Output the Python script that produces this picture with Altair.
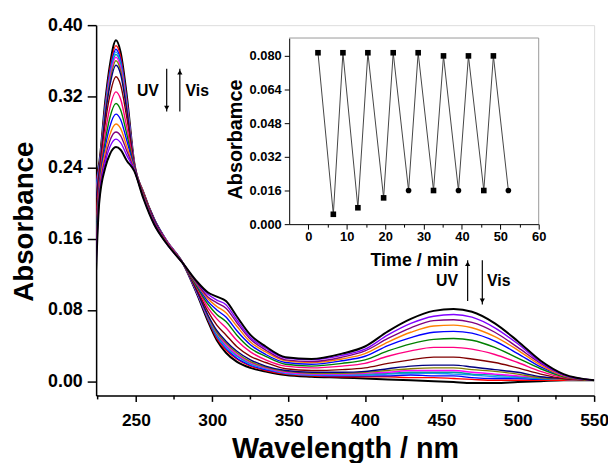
import altair as alt
import pandas as pd

# ---------------- main spectra ----------------
wavelengths = [224, 226, 230, 233, 237, 240, 244, 249, 255, 262, 270, 281, 290, 297, 303,
               309, 316, 325, 335, 348, 365, 385, 400, 415, 430, 445, 458, 470, 485, 500,
               515, 530, 550]

spec_00 = [0.230, 0.245, 0.315, 0.355, 0.383, 0.370, 0.322, 0.245, 0.212, 0.182, 0.158, 0.132, 0.098, 0.068, 0.046, 0.032, 0.022, 0.015, 0.011, 0.007, 0.005, 0.004, 0.003, 0.002, 0.001, 0.000, -0.001, -0.002, -0.002, -0.001, 0.000, 0.001, 0.001]
spec_01 = [0.225, 0.243, 0.311, 0.350, 0.377, 0.365, 0.318, 0.245, 0.212, 0.182, 0.158, 0.132, 0.099, 0.070, 0.048, 0.035, 0.025, 0.017, 0.012, 0.008, 0.006, 0.005, 0.005, 0.005, 0.004, 0.004, 0.003, 0.002, 0.001, 0.001, 0.001, 0.001, 0.001]
spec_02 = [0.222, 0.241, 0.309, 0.347, 0.373, 0.361, 0.316, 0.244, 0.211, 0.182, 0.158, 0.132, 0.099, 0.071, 0.050, 0.037, 0.026, 0.018, 0.013, 0.009, 0.007, 0.006, 0.006, 0.006, 0.007, 0.006, 0.006, 0.004, 0.003, 0.003, 0.002, 0.002, 0.001]
spec_03 = [0.218, 0.240, 0.307, 0.344, 0.370, 0.358, 0.314, 0.244, 0.211, 0.181, 0.158, 0.132, 0.100, 0.072, 0.051, 0.038, 0.028, 0.019, 0.014, 0.009, 0.007, 0.007, 0.007, 0.008, 0.009, 0.009, 0.008, 0.007, 0.005, 0.004, 0.003, 0.002, 0.001]
spec_04 = [0.216, 0.239, 0.305, 0.342, 0.367, 0.356, 0.312, 0.244, 0.211, 0.181, 0.158, 0.132, 0.100, 0.072, 0.052, 0.040, 0.029, 0.020, 0.015, 0.010, 0.008, 0.008, 0.008, 0.009, 0.010, 0.010, 0.010, 0.008, 0.007, 0.005, 0.003, 0.002, 0.001]
spec_05 = [0.214, 0.238, 0.303, 0.340, 0.364, 0.353, 0.311, 0.244, 0.211, 0.181, 0.158, 0.132, 0.100, 0.073, 0.054, 0.041, 0.030, 0.021, 0.015, 0.010, 0.008, 0.008, 0.009, 0.010, 0.012, 0.012, 0.012, 0.010, 0.008, 0.006, 0.004, 0.002, 0.001]
spec_06 = [0.210, 0.236, 0.301, 0.336, 0.360, 0.349, 0.308, 0.243, 0.211, 0.181, 0.157, 0.132, 0.101, 0.074, 0.055, 0.043, 0.032, 0.022, 0.016, 0.011, 0.009, 0.009, 0.010, 0.012, 0.014, 0.015, 0.015, 0.013, 0.011, 0.008, 0.004, 0.002, 0.001]
spec_07 = [0.206, 0.235, 0.298, 0.332, 0.355, 0.345, 0.305, 0.243, 0.210, 0.181, 0.157, 0.132, 0.101, 0.075, 0.057, 0.045, 0.034, 0.024, 0.017, 0.012, 0.010, 0.010, 0.011, 0.014, 0.017, 0.018, 0.018, 0.016, 0.013, 0.010, 0.005, 0.003, 0.001]
spec_08 = [0.194, 0.230, 0.290, 0.321, 0.342, 0.333, 0.297, 0.242, 0.210, 0.180, 0.157, 0.132, 0.103, 0.079, 0.063, 0.052, 0.039, 0.028, 0.021, 0.014, 0.012, 0.013, 0.015, 0.020, 0.024, 0.027, 0.027, 0.025, 0.021, 0.015, 0.008, 0.003, 0.001]
spec_09 = [0.180, 0.223, 0.279, 0.307, 0.325, 0.317, 0.286, 0.241, 0.209, 0.179, 0.157, 0.132, 0.105, 0.083, 0.070, 0.060, 0.046, 0.033, 0.024, 0.017, 0.015, 0.017, 0.020, 0.028, 0.034, 0.038, 0.038, 0.036, 0.030, 0.021, 0.011, 0.004, 0.001]
spec_10 = [0.168, 0.218, 0.270, 0.296, 0.312, 0.305, 0.278, 0.240, 0.208, 0.178, 0.156, 0.132, 0.106, 0.087, 0.075, 0.067, 0.052, 0.037, 0.028, 0.019, 0.017, 0.020, 0.024, 0.034, 0.042, 0.047, 0.048, 0.046, 0.038, 0.026, 0.014, 0.005, 0.001]
spec_11 = [0.157, 0.214, 0.263, 0.286, 0.300, 0.294, 0.271, 0.239, 0.207, 0.178, 0.156, 0.132, 0.108, 0.090, 0.080, 0.072, 0.057, 0.041, 0.030, 0.021, 0.019, 0.023, 0.028, 0.040, 0.049, 0.055, 0.056, 0.054, 0.045, 0.031, 0.016, 0.006, 0.001]
spec_12 = [0.148, 0.210, 0.257, 0.277, 0.289, 0.284, 0.264, 0.238, 0.207, 0.177, 0.156, 0.132, 0.109, 0.093, 0.084, 0.077, 0.062, 0.044, 0.033, 0.023, 0.021, 0.025, 0.031, 0.044, 0.055, 0.062, 0.063, 0.060, 0.050, 0.035, 0.018, 0.006, 0.001]
spec_13 = [0.140, 0.207, 0.251, 0.270, 0.280, 0.276, 0.259, 0.237, 0.206, 0.177, 0.155, 0.132, 0.110, 0.095, 0.088, 0.082, 0.066, 0.047, 0.035, 0.024, 0.022, 0.027, 0.034, 0.048, 0.060, 0.068, 0.069, 0.066, 0.055, 0.038, 0.020, 0.007, 0.001]
spec_14 = [0.133, 0.203, 0.246, 0.263, 0.272, 0.268, 0.254, 0.237, 0.206, 0.176, 0.155, 0.132, 0.111, 0.098, 0.091, 0.086, 0.069, 0.049, 0.037, 0.026, 0.024, 0.029, 0.036, 0.052, 0.065, 0.073, 0.075, 0.072, 0.060, 0.042, 0.021, 0.007, 0.001]
spec_15 = [0.125, 0.200, 0.240, 0.255, 0.263, 0.260, 0.248, 0.236, 0.205, 0.176, 0.155, 0.132, 0.112, 0.100, 0.095, 0.090, 0.073, 0.052, 0.039, 0.027, 0.025, 0.031, 0.039, 0.056, 0.070, 0.079, 0.081, 0.078, 0.065, 0.045, 0.023, 0.008, 0.001]

spectra = [spec_00, spec_01, spec_02, spec_03, spec_04, spec_05, spec_06, spec_07,
           spec_08, spec_09, spec_10, spec_11, spec_12, spec_13, spec_14, spec_15]
curve_names = ["c%02d" % i for i in range(len(spectra))]
curve_colors = ["#000000", "#FF0000", "#0000FF", "#1E90FF", "#00A0A0", "#FF00FF",
                "#808000", "#000080", "#800000", "#FF0080", "#008000", "#0000FF",
                "#FF8000", "#800080", "#8000FF", "#000000"]

# axis ticks
x_ticks = [250, 300, 350, 400, 450, 500, 550]
x_minor_ticks = [225, 275, 325, 375, 425, 475, 525]
y_ticks = [0.00, 0.04, 0.08, 0.12, 0.16, 0.20, 0.24, 0.28, 0.32, 0.36, 0.40]

# ---------------- inset: switching cycles ----------------
time_min = [2.5, 6.5, 9.0, 12.9, 15.5, 19.6, 22.1, 26.1, 28.6, 32.6, 35.2, 39.1, 41.7, 45.7, 48.2, 52.1]
abs_cycle = [0.0815, 0.0047, 0.0815, 0.0078, 0.0815, 0.0125, 0.0815, 0.0160,
             0.0815, 0.0160, 0.0800, 0.0160, 0.0800, 0.0160, 0.0800, 0.0160]
marker = ["square", "square", "square", "square", "square", "square", "square", "circle",
          "square", "square", "square", "circle", "square", "square", "square", "circle"]
inset_x_ticks = [0, 5, 10, 15, 20, 25, 30, 35, 40, 45, 50, 55, 60]
inset_y_ticks = [0.000, 0.008, 0.016, 0.024, 0.032, 0.040, 0.048, 0.056, 0.064, 0.072, 0.080]

# ---------------- annotations ----------------
ann_text = ["UV", "Vis", "UV", "Vis"]
ann_x = [257.9, 290.2, 453.7, 487.6]
ann_y = [0.326, 0.326, 0.112, 0.112]
arrow_x = [270.2, 278.8, 467.2, 476.8]
arrow_top = [0.351, 0.351, 0.136, 0.136]
arrow_bottom = [0.303, 0.303, 0.090, 0.0863]
arrow_dir = ["down", "up", "up", "down"]

FONT = "Liberation Sans"
PLOT_W, PLOT_H = 503, 374

rows = []
for name, vals in zip(curve_names, spectra):
    for wl, a in zip(wavelengths, vals):
        rows.append({"curve": name, "wl": wl, "A": a})
spec_df = pd.DataFrame(rows)

ann_df = pd.DataFrame({"wl": ann_x, "A": ann_y, "t": ann_text})
arrow_df = pd.DataFrame({"wl": arrow_x, "A": arrow_top, "A2": arrow_bottom, "dir": arrow_dir})
head_rows = []
for x, top, bot, d in zip(arrow_x, arrow_top, arrow_bottom, arrow_dir):
    head_rows.append({"wl": x, "A": (bot + 0.004) if d == "down" else (top - 0.004), "dir": d})
head_df = pd.DataFrame(head_rows)
minor_df = pd.DataFrame({"wl": x_minor_ticks})

inset_df = pd.DataFrame({"t": time_min, "a": abs_cycle, "mk": marker, "order": list(range(len(time_min)))})

x_main = alt.X(
    "wl:Q",
    scale=alt.Scale(domain=[224, 550], nice=False, zero=False),
    axis=alt.Axis(
        values=x_ticks, format="d", title="Wavelength / nm", tickSize=6,
        labelFont=FONT, labelFontSize=17.5, labelFontWeight="bold", labelColor="black",
        titleFont=FONT, titleFontSize=29, titleFontWeight="bold", titleColor="black",
        labelPadding=10, titlePadding=6, grid=False, domainColor="black", domainWidth=1.5,
        tickColor="black", tickWidth=1.5, labelFlush=False, labelOverlap=False,
    ),
)
y_main = alt.Y(
    "A:Q",
    scale=alt.Scale(domain=[-0.016, 0.40], nice=False, zero=False),
    axis=alt.Axis(
        values=y_ticks, format=".2f", title="Absorbance",
        labelExpr="round(datum.value * 100) % 8 === 0 ? datum.label : ''",
        tickSize={"condition": {"test": "round(datum.value * 100) % 8 === 0", "value": 9}, "value": 5},
        labelFont=FONT, labelFontSize=18, labelFontWeight="bold", labelColor="black",
        titleFont=FONT, titleFontSize=28, titleFontWeight="bold", titleColor="black",
        labelPadding=5, titlePadding=9, titleY=198, grid=False, domainColor="black",
        domainWidth=1.5, tickColor="black", tickWidth=1.5, labelFlush=False, labelOverlap=False,
    ),
)

lines = alt.Chart(spec_df).mark_line(interpolate="monotone", clip=True).encode(
    x=x_main,
    y=y_main,
    color=alt.Color("curve:N", scale=alt.Scale(domain=curve_names, range=curve_colors), legend=None),
    strokeWidth=alt.condition("datum.curve === 'c00' || datum.curve === 'c15'", alt.value(2.0), alt.value(1.4)),
)

minor_x = alt.Chart(minor_df).mark_rule(color="black", strokeWidth=1.5, clip=False).encode(
    x="wl:Q", y=alt.value(PLOT_H), y2=alt.value(PLOT_H + 4)
)

texts = alt.Chart(ann_df).mark_text(font=FONT, fontSize=16, fontWeight="bold", color="black").encode(
    x="wl:Q", y="A:Q", text="t:N"
)
arrows = alt.Chart(arrow_df).mark_rule(color="black", strokeWidth=1.2).encode(
    x="wl:Q", y="A:Q", y2="A2"
)
heads_down = alt.Chart(head_df).transform_filter("datum.dir === 'down'").mark_point(
    shape="triangle-down", filled=True, color="black", size=28, opacity=1
).encode(x="wl:Q", y="A:Q")
heads_up = alt.Chart(head_df).transform_filter("datum.dir === 'up'").mark_point(
    shape="triangle-up", filled=True, color="black", size=28, opacity=1
).encode(x="wl:Q", y="A:Q")

main = alt.layer(lines, minor_x, arrows, heads_down, heads_up, texts)

# inset placed inside plot area via explicit scale ranges (pixels)
x_in = alt.X(
    "t:Q",
    scale=alt.Scale(domain=[-5, 60], range=[195, 447], nice=False, zero=False),
    axis=alt.Axis(
        orient="bottom", offset=-173, values=inset_x_ticks, format="d", title="Time / min",
        labelExpr="datum.value % 10 === 0 ? datum.label : ''",
        tickSize={"condition": {"test": "datum.value % 10 === 0", "value": 5}, "value": 3},
        labelFont=FONT, labelFontSize=13, labelFontWeight="bold", labelColor="black",
        titleFont=FONT, titleFontSize=18, titleFontWeight="bold", titleColor="black",
        labelPadding=2, titlePadding=8, grid=False, domainColor="black", domainWidth=1,
        tickColor="black", tickWidth=1, labelFlush=False, labelOverlap=False,
    ),
)
y_in = alt.Y(
    "a:Q",
    scale=alt.Scale(domain=[0, 0.0885], range=[201, 13], nice=False, zero=False),
    axis=alt.Axis(
        orient="left", offset=-195, values=inset_y_ticks, format=".3f", title="Absorbamce",
        labelExpr="round(datum.value * 1000) % 16 === 0 ? datum.label : ''",
        tickSize={"condition": {"test": "round(datum.value * 1000) % 16 === 0", "value": 5}, "value": 3},
        labelFont=FONT, labelFontSize=13, labelFontWeight="bold", labelColor="black",
        titleFont=FONT, titleFontSize=20, titleFontWeight="bold", titleColor="black",
        labelPadding=3, titlePadding=4, titleY=115, grid=False, domainColor="black",
        domainWidth=1, tickColor="black", tickWidth=1, labelFlush=False, labelOverlap=False,
    ),
)

inset_line = alt.Chart(inset_df).mark_line(color="#444444", strokeWidth=1).encode(
    x=x_in, y=y_in, order="order:Q"
)
inset_pts = alt.Chart(inset_df).mark_point(filled=True, color="black", size=32, opacity=1).encode(
    x="t:Q", y="a:Q",
    shape=alt.Shape("mk:N", scale=alt.Scale(domain=["square", "circle"], range=["square", "circle"]), legend=None),
)
frame_top = alt.Chart(pd.DataFrame({"t": [-5], "t2": [60], "a": [0.0885]})).mark_rule(
    color="#999999", strokeWidth=1
).encode(x="t:Q", x2="t2", y="a:Q")
frame_right = alt.Chart(pd.DataFrame({"t": [60], "a": [0.0], "a2": [0.0885]})).mark_rule(
    color="#999999", strokeWidth=1
).encode(x="t:Q", y="a:Q", y2="a2")

inset = alt.layer(inset_line, inset_pts, frame_top, frame_right)

chart = alt.layer(main, inset).resolve_scale(x="independent", y="independent").properties(
    width=PLOT_W, height=PLOT_H,
    autosize=alt.AutoSizeParams(type="none"),
    padding={"left": 89, "top": 15, "right": 14, "bottom": 75},
).configure_view(stroke="black", strokeWidth=1.5).configure(background="white")

chart.save("out.html", embed_options={"renderer": "svg", "actions": False})
